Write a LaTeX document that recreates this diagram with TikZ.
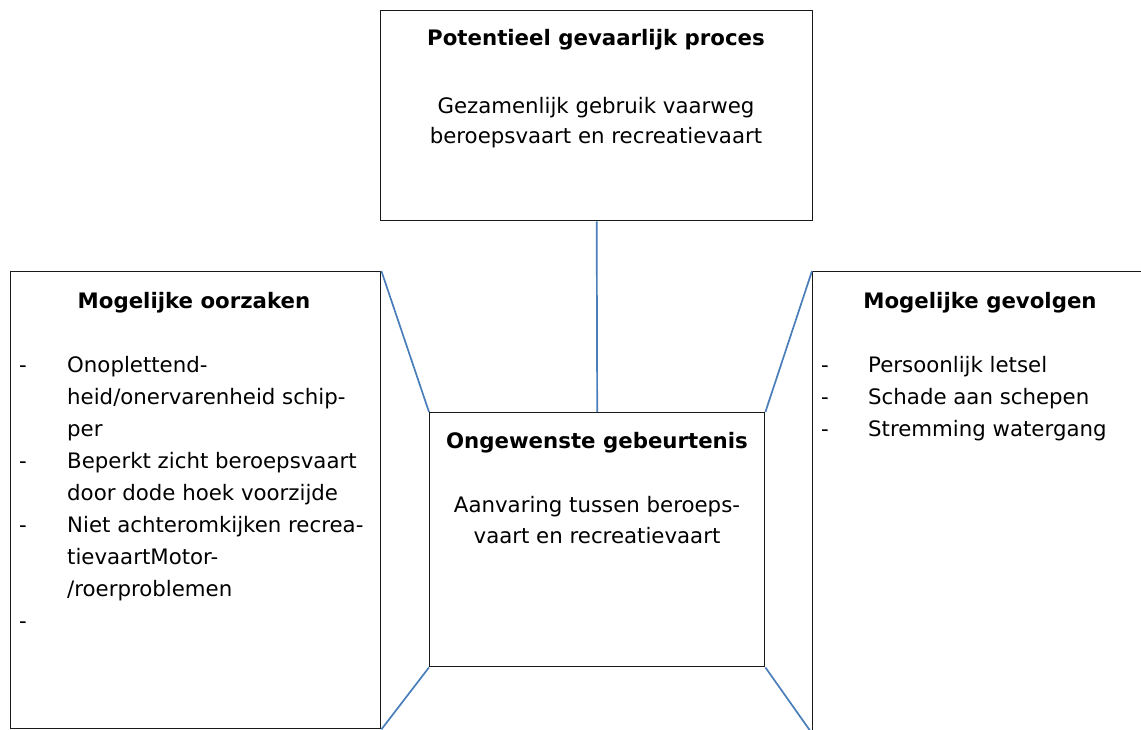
\documentclass[tikz,border=0pt]{standalone}
\usepackage{fontspec}
\setmainfont{DejaVu Sans}
\definecolor{connblue}{HTML}{4A7EBB}
\definecolor{boxline}{HTML}{1A1A1A}
\begin{document}
\begin{tikzpicture}[x=1pt,y=-1pt,
  box/.style={draw=boxline,line width=1.4pt,rectangle,inner sep=0pt,anchor=north west},
  conn/.style={draw=connblue,line width=1.7pt},
  txt/.style={font=\fontsize{21.3}{32}\selectfont,inner sep=0pt},
  ttl/.style={font=\fontsize{21.3}{32}\selectfont\bfseries,inner sep=0pt},
  itm/.style={txt,anchor=base west}]
\useasboundingbox (0,0) rectangle (1141,729);
\clip (0,0) rectangle (1141,729);
% boxes
\node[box,minimum width=432pt,minimum height=210pt] (top) at (380,10) {};
\node[box,minimum width=370.5pt,minimum height=457pt] (left) at (9.5,271) {};
\node[box,minimum width=335pt,minimum height=254pt] (mid) at (429,412) {};
\node[box,minimum width=340pt,minimum height=461pt] (right) at (812,271) {};
% connectors
\draw[conn] (top.south) -- (mid.north);
\draw[conn] (left.north east) -- (mid.north west);
\draw[conn] (mid.south west) -- (left.south east);
\draw[conn] (mid.north east) -- (right.north west);
\draw[conn] (mid.south east) -- (right.south west);
% top box text
\node[ttl,anchor=base] (t1) at (596,45) {Potentieel gevaarlijk proces};
\node[txt,anchor=base] (t2) at (596,113) {Gezamenlijk gebruik vaarweg};
\node[txt,anchor=base] (t3) at (596,143) {beroepsvaart en recreatievaart};
% middle box text
\node[ttl,anchor=base] (m1) at (597,448) {Ongewenste gebeurtenis};
\node[txt,anchor=base] (m2) at (597,512) {Aanvaring tussen beroeps-};
\node[txt,anchor=base] (m3) at (597,543) {vaart en recreatievaart};
% left box text
\node[ttl,anchor=base] (l0) at (194,308) {Mogelijke oorzaken};
\node[itm] (ld1) at (19,372) {-};
\node[itm] (l1) at (67,372) {Onoplettend-};
\node[itm] (l2) at (67,404) {heid/onervarenheid schip-};
\node[itm] (l3) at (67,436) {per};
\node[itm] (ld2) at (19,468) {-};
\node[itm] (l4) at (67,468) {Beperkt zicht beroepsvaart};
\node[itm] (l5) at (67,500) {door dode hoek voorzijde};
\node[itm] (ld3) at (19,532) {-};
\node[itm] (l6) at (67,532) {Niet achteromkijken recrea-};
\node[itm] (l7) at (67,564) {tievaartMotor-};
\node[itm] (l8) at (67,596) {/roerproblemen};
\node[itm] (ld4) at (19,628) {-};
% right box text
\node[ttl,anchor=base] (r0) at (980,308) {Mogelijke gevolgen};
\node[itm] (rd1) at (821,372) {-};
\node[itm] (r1) at (868,372) {Persoonlijk letsel};
\node[itm] (rd2) at (821,404) {-};
\node[itm] (r2) at (868,404) {Schade aan schepen};
\node[itm] (rd3) at (821,436) {-};
\node[itm] (r3) at (868,436) {Stremming watergang};
\end{tikzpicture}
\end{document}
